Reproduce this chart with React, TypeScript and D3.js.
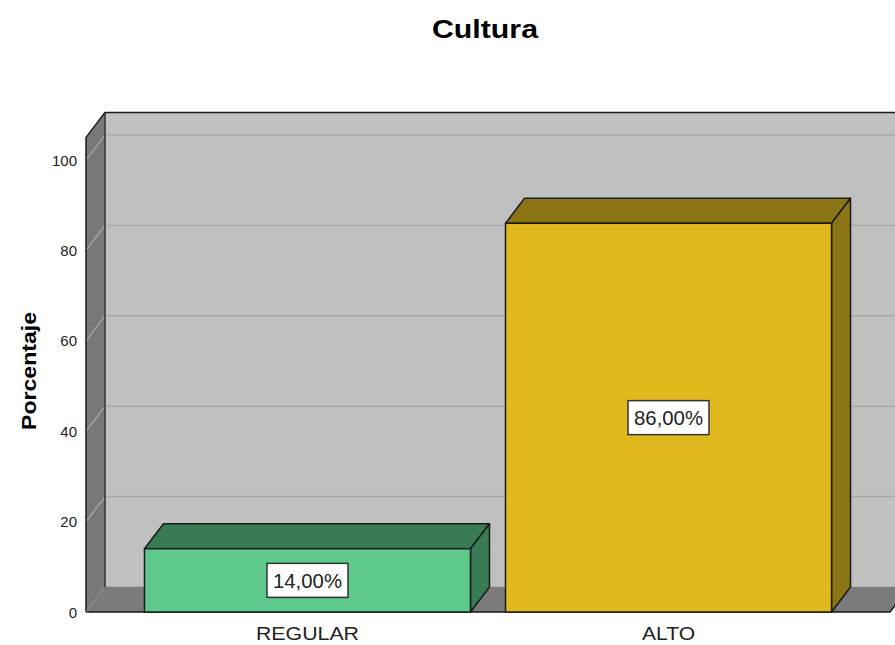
import React from "react";
import * as d3 from "d3";

const categories = ["REGULAR", "ALTO"];
const values = [14, 86];
const labels = ["14,00%", "86,00%"];
const yTicks = [0, 20, 40, 60, 80, 100];
const title = "Cultura";
const yTitle = "Porcentaje";

const W = 895;
const H = 645;
const DX = 19;
const DY = -25;
const FONT = "'Liberation Sans', Arial, sans-serif";

const frontColors = ["#5dc98a", "#e0b91f"];
const depthColors = ["#387b54", "#8b7514"];

export default function App() {
  const y = d3.scaleLinear().domain([0, 100]).range([612, 160]);
  const yTop = 105;
  const x = d3
    .scaleBand<string>()
    .domain(categories)
    .range([86, 890])
    .paddingInner(0.097)
    .paddingOuter(0.162);

  const x0 = 86;
  const x1 = 890;
  const y0 = y(0);
  const yT = y(yTop);

  const pts = (a: [number, number][]) => a.map((p) => p.join(",")).join(" ");

  return (
    <svg
      width={W}
      height={H}
      style={{ position: "fixed", left: 0, top: 0, background: "#fff" }}
      fontFamily={FONT}
    >
      {/* back wall */}
      <rect x={x0 + DX} y={yT + DY} width={W - x0 - DX + 20} height={y0 - yT} fill="#c0c0c0" />
      {yTicks.map((t) => (
        <line key={"bg" + t} x1={x0 + DX} x2={W + 20} y1={y(t) + DY} y2={y(t) + DY} stroke="#a8a8a8" strokeWidth={1.5} />
      ))}
      {/* left wall */}
      <polygon
        points={pts([
          [x0, yT],
          [x0 + DX, yT + DY],
          [x0 + DX, y0 + DY],
          [x0, y0],
        ])}
        fill="#787878"
      />
      {yTicks.map((t) => (
        <line key={"lg" + t} x1={x0} y1={y(t)} x2={x0 + DX} y2={y(t) + DY} stroke="#ababab" strokeWidth={1.2} />
      ))}
      {/* floor */}
      <polygon
        points={pts([
          [x0, y0],
          [x0 + DX, y0 + DY],
          [x1 + DX, y0 + DY],
          [x1, y0],
        ])}
        fill="#7b7b7b"
      />
      {/* outlines */}
      <line x1={x0 + DX} y1={yT + DY} x2={x0 + DX} y2={y0 + DY} stroke="#333" strokeWidth={1.5} />
      <line x1={x0 + DX} y1={yT + DY} x2={W + 10} y2={yT + DY} stroke="#1a1a1a" strokeWidth={1.5} />
      <polyline
        points={pts([
          [x0, y0],
          [x0, yT],
          [x0 + DX, yT + DY],
        ])}
        fill="none"
        stroke="#1a1a1a"
        strokeWidth={1.5}
      />
      <polyline
        points={pts([
          [x0, y0],
          [x1, y0],
          [x1 + DX, y0 + DY],
        ])}
        fill="none"
        stroke="#1a1a1a"
        strokeWidth={1.5}
      />
      <line x1={x0} y1={y0} x2={x0 + DX} y2={y0 + DY} stroke="#8a8a8a" strokeWidth={1} />

      {/* bars */}
      {categories.map((c, i) => {
        const bx0 = x(c)!;
        const bx1 = bx0 + x.bandwidth();
        const by = y(values[i]);
        const cx = (bx0 + bx1) / 2;
        const cy = (by + y0) / 2;
        return (
          <g key={c}>
            <polygon
              points={pts([
                [bx0, by],
                [bx0 + DX, by + DY],
                [bx1 + DX, by + DY],
                [bx1, by],
              ])}
              fill={depthColors[i]}
              stroke="#1a1a1a"
              strokeWidth={1.5}
              strokeLinejoin="round"
            />
            <polygon
              points={pts([
                [bx1, by],
                [bx1 + DX, by + DY],
                [bx1 + DX, y0 + DY],
                [bx1, y0],
              ])}
              fill={depthColors[i]}
              stroke="#1a1a1a"
              strokeWidth={1.5}
              strokeLinejoin="round"
            />
            <rect x={bx0} y={by} width={bx1 - bx0} height={y0 - by} fill={frontColors[i]} stroke="#1a1a1a" strokeWidth={1.5} />
            <rect x={cx - 40.5} y={cy - 17} width={81} height={34} fill="#fff" stroke="#333" strokeWidth={1.5} />
            <text x={cx} y={cy + 7.5} textAnchor="middle" fontSize={20} fill="#222" textLength={69} lengthAdjust="spacingAndGlyphs">
              {labels[i]}
            </text>
            <text x={cx} y={640} textAnchor="middle" fontSize={19} fill="#222" textLength={i === 0 ? 103 : 53} lengthAdjust="spacingAndGlyphs">
              {c}
            </text>
          </g>
        );
      })}

      {/* y ticks */}
      {yTicks.map((t) => (
        <text key={"t" + t} x={77} y={y(t) + 5.5} textAnchor="end" fontSize={15} fill="#222">
          {t}
        </text>
      ))}

      {/* titles */}
      <text x={485} y={38} textAnchor="middle" fontSize={26} fontWeight="bold" fill="#000" textLength={106} lengthAdjust="spacingAndGlyphs">
        {title}
      </text>
      <text
        transform={`translate(36,371) rotate(-90)`}
        textAnchor="middle"
        fontSize={20}
        fontWeight="bold"
        fill="#000"
        textLength={118}
        lengthAdjust="spacingAndGlyphs"
      >
        {yTitle}
      </text>
    </svg>
  );
}
